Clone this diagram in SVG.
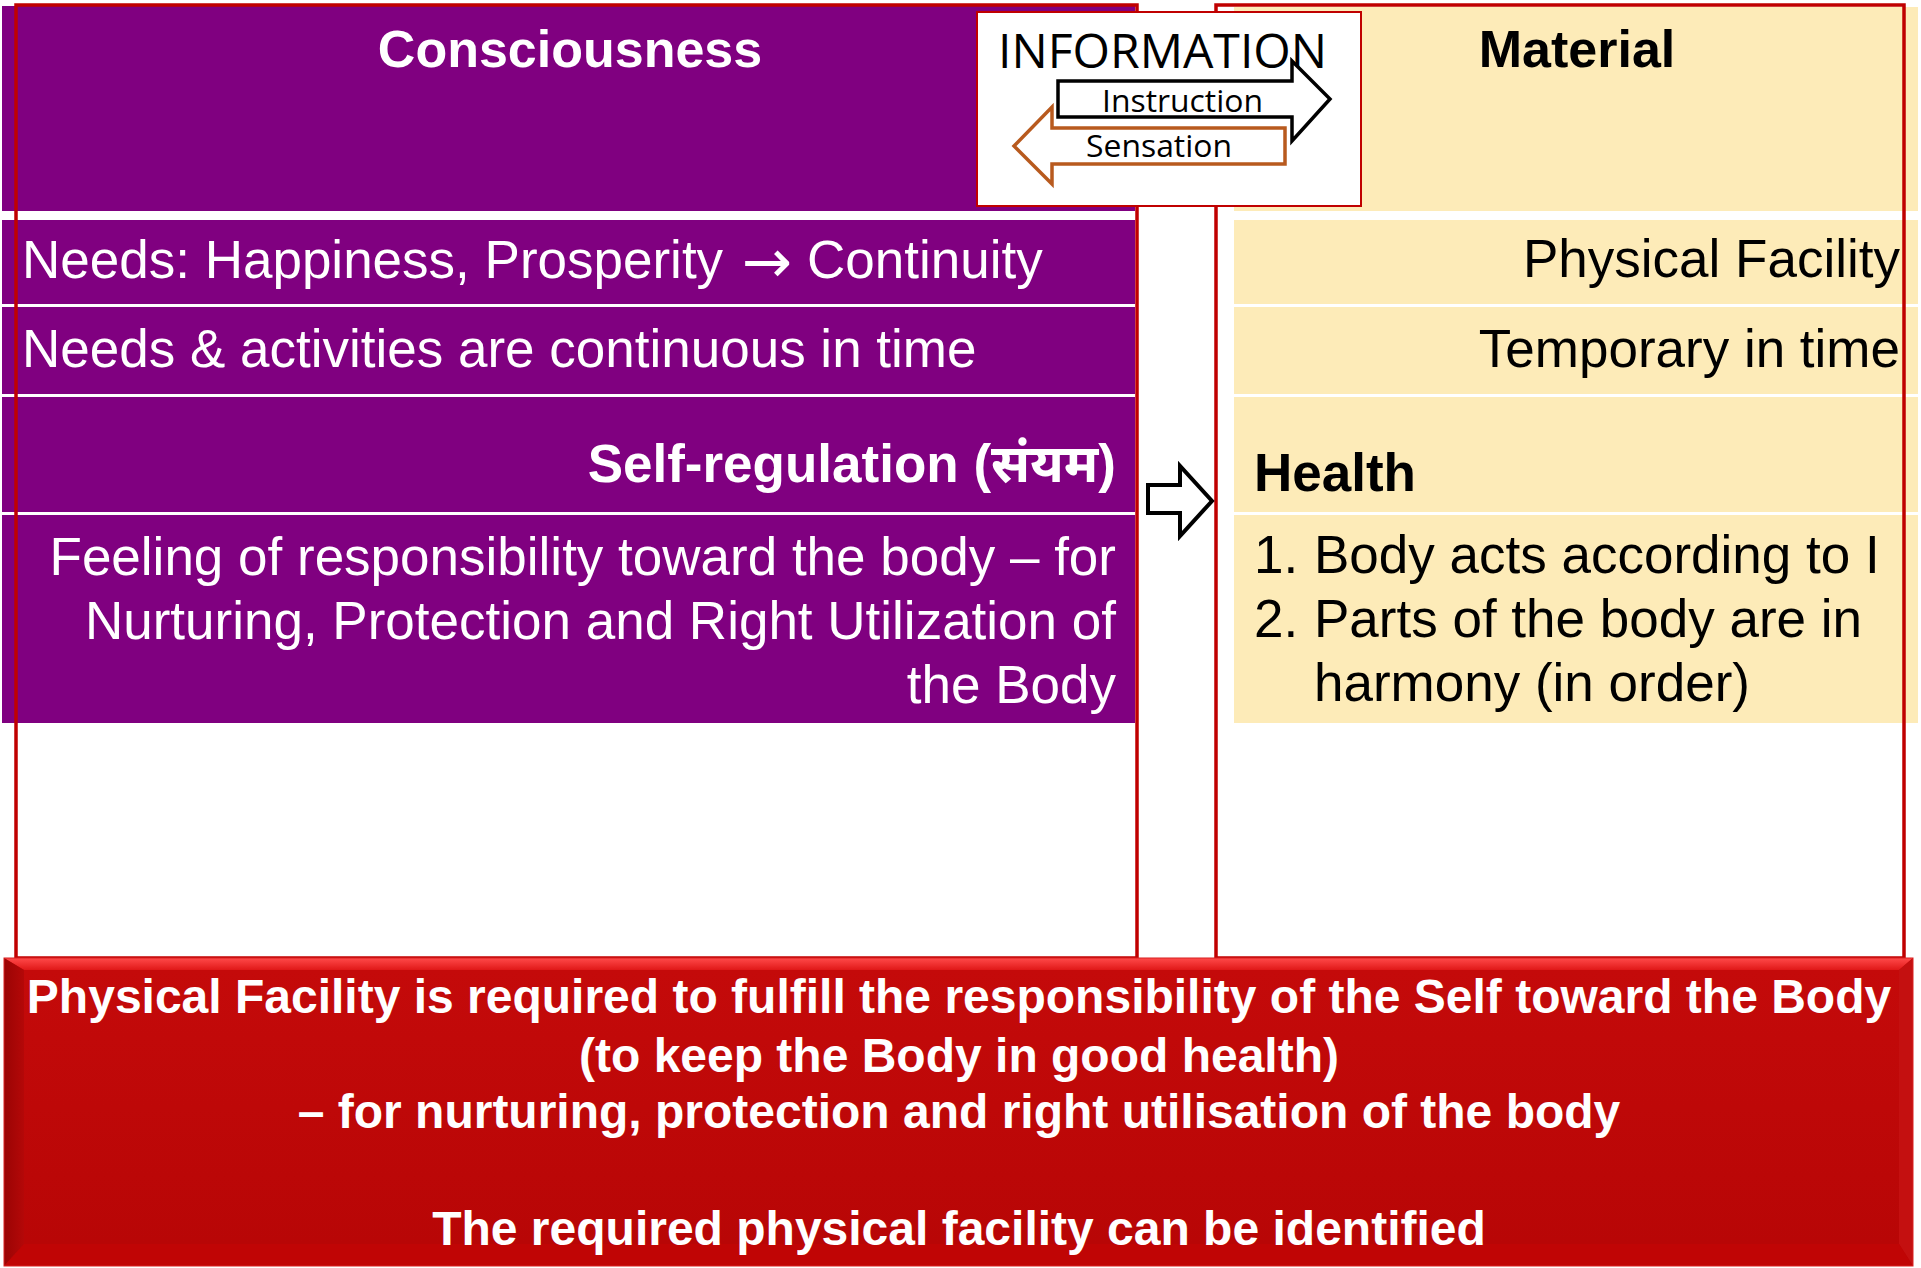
<svg xmlns="http://www.w3.org/2000/svg" width="1921" height="1268" viewBox="0 0 1921 1268">
<style>
.sans{font-family:"Liberation Sans","Noto Sans","Noto Sans Devanagari","Lohit Devanagari",sans-serif}
.w{fill:#FFFFFF}
.k{fill:#000000}
.b{font-weight:bold}
.s53{font-size:53px}
.s52{font-size:52px}
.s48{font-size:48px}
.purple{fill:#800080}
.beige{fill:#FDEBB8}
.colborder{fill:none;stroke:#C00000;stroke-width:3.5}
.ob{font-family:"Open Sans","Noto Sans",sans-serif;fill:#000}
</style>
<defs>
<linearGradient id="topBevel" x1="0" y1="0" x2="0" y2="1">
<stop offset="0" stop-color="#FF4A4A"/>
<stop offset="1" stop-color="#E01818"/>
</linearGradient>
<linearGradient id="leftBevel" x1="0" y1="0" x2="1" y2="0">
<stop offset="0" stop-color="#9A0404"/>
<stop offset="1" stop-color="#B40808"/>
</linearGradient>
<linearGradient id="face" x1="0" y1="0" x2="0" y2="1">
<stop offset="0" stop-color="#C40A0A"/>
<stop offset="1" stop-color="#B80606"/>
</linearGradient>
</defs>
<rect x="0" y="0" width="1921" height="1268" fill="#FFFFFF"/>

<g id="consciousness">
<rect class="purple" x="2" y="6" width="1133" height="205"/>
<rect class="purple" x="2" y="220" width="1133" height="84"/>
<rect class="purple" x="2" y="307" width="1133" height="87"/>
<rect class="purple" x="2" y="397" width="1133" height="115"/>
<rect class="purple" x="2" y="515" width="1133" height="208"/>
<rect class="colborder" x="16" y="5" width="1121" height="953"/>
<text class="sans w b s52" x="570" y="67" text-anchor="middle">Consciousness</text>
<text class="sans w s53" x="22" y="278">Needs: Happiness, Prosperity <tspan x="742" y="282" font-family="DejaVu Sans" font-size="60">→</tspan><tspan x="807" y="278">Continuity</tspan></text>
<text class="sans w s53" x="22" y="367">Needs &amp; activities are continuous in time</text>
<text class="sans w b s53" x="1116" y="482" text-anchor="end">Self-regulation (संयम)</text>
<text class="sans w s53" text-anchor="end"><tspan x="1116" y="575">Feeling of responsibility toward the body – for</tspan><tspan x="1116" y="639">Nurturing, Protection and Right Utilization of</tspan><tspan x="1116" y="703">the Body</tspan></text>
</g>

<g id="material">
<rect class="beige" x="1234" y="7" width="684" height="204"/>
<rect class="beige" x="1234" y="220" width="684" height="84"/>
<rect class="beige" x="1234" y="307" width="684" height="87"/>
<rect class="beige" x="1234" y="397" width="684" height="115"/>
<rect class="beige" x="1234" y="515" width="684" height="208"/>
<rect class="colborder" x="1216" y="5" width="688" height="953"/>
<text class="sans k b s52" x="1577" y="67" text-anchor="middle">Material</text>
<text class="sans k s53" x="1900" y="277" text-anchor="end">Physical Facility</text>
<text class="sans k s53" x="1900" y="367" text-anchor="end">Temporary in time</text>
<text class="sans k b s53" x="1254" y="491">Health</text>
<text class="sans k s53" x="1254" y="573">1.</text>
<text class="sans k s53" x="1314" y="573">Body acts according to I</text>
<text class="sans k s53" x="1254" y="637">2.</text>
<text class="sans k s53" x="1314" y="637">Parts of the body are in</text>
<text class="sans k s53" x="1314" y="701">harmony (in order)</text>
</g>

<g id="information">
<rect x="977" y="12" width="384" height="194" fill="#FFFFFF" stroke="#C00000" stroke-width="2"/>
<text class="ob" x="998" y="68" font-size="47" textLength="329" lengthAdjust="spacingAndGlyphs">INFORMATION</text>
<path d="M1285,128 V164 H1052 V184 L1014,146 L1052,107 V128 Z" fill="#FFFFFF" stroke="#B85A1E" stroke-width="3.5" stroke-linejoin="miter"/>
<path d="M1058,81 H1292 V61 L1330,99 L1292,141 V117 H1058 Z" fill="#FFFFFF" stroke="#000000" stroke-width="3.5"/>
<text class="ob" x="1102" y="112" font-size="31" textLength="161" lengthAdjust="spacingAndGlyphs">Instruction</text>
<text class="ob" x="1086" y="157" font-size="31" textLength="146" lengthAdjust="spacingAndGlyphs">Sensation</text>
</g>

<g id="connectors">
<path d="M1148,485 H1180 V466 L1212,501 L1180,536 V513 H1148 Z" fill="#FFFFFF" stroke="#000000" stroke-width="4"/>
</g>

<g id="conclusion">
<rect x="4" y="958" width="1909" height="308" fill="url(#face)"/>
<polygon points="4,958 1913,958 1899,970 24,970" fill="url(#topBevel)"/>
<polygon points="4,958 24,970 24,1244 4,1266" fill="url(#leftBevel)"/>
<polygon points="1913,958 1913,1266 1899,1244 1899,970" fill="#C41010"/>
<polygon points="4,1266 1913,1266 1899,1244 24,1244" fill="#C00505"/>
<rect x="24" y="970" width="1875" height="274" fill="url(#face)"/>
<rect x="4" y="958" width="1909" height="308" fill="none" stroke="#D82020" stroke-width="1"/>
<text class="sans w b s48" text-anchor="middle"><tspan x="959" y="1013">Physical Facility is required to fulfill the responsibility of the Self toward the Body</tspan><tspan x="959" y="1072">(to keep the Body in good health)</tspan><tspan x="959" y="1128">– for nurturing, protection and right utilisation of the body</tspan><tspan x="959" y="1245">The required physical facility can be identified</tspan></text>
</g>
</svg>
